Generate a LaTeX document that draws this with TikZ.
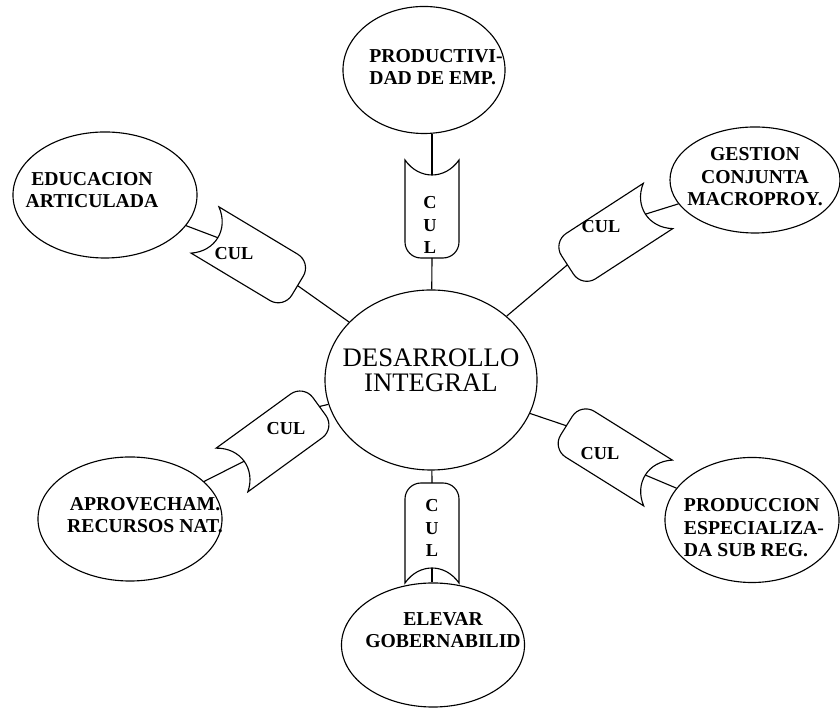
\documentclass[tikz,border=0pt]{standalone}
\usepackage{fontspec}
\setmainfont{Liberation Serif}
\usetikzlibrary{shapes.geometric}
% scroll: name, middle of the hollow end, angle, length
\def\culscroll#1(#2)(#3:#4){%
	\begin{scope}[shift={(#2)},rotate=#3]
		\draw[fill=white] (0,27) .. controls (20,13) and (20,-13) .. (0,-27)
			-- ({#4-16},-27) arc (-90:0:16) -- (#4,11) arc (0:90:16) -- cycle;
		\coordinate (#1-in) at (15,0);
		\coordinate (#1-out) at (#4,0);
	\end{scope}}

\begin{document}
\begin{tikzpicture}[x=0.025cm,y=0.025cm,line width=0.8pt,
	cell/.style={draw,ellipse,inner sep=0pt},
	txt/.style={font=\fontsize{14}{16}\selectfont\bfseries,inner sep=0pt},
	cul/.style={font=\fontsize{13}{16}\selectfont\bfseries,align=center,inner sep=0pt}]
			%%%%% START %%%%%
			\useasboundingbox (0,0) rectangle (840,708);
			
			\node[cell,minimum width=5.3cm,minimum height=4.5cm,
				label={[inner sep=0pt,align=center,font=\fontsize{19}{18}\selectfont,yshift=0.25cm]center:{DESARROLLO\\INTEGRAL}}] (center) at (431,328) {};
			
			\node[cell,minimum width=4.05cm,minimum height=3.175cm,
				label={[txt,align=left,xshift=0.3cm,yshift=0.075cm]center:{PRODUCTIVI-\\DAD DE EMP.}}] (prod) at (424,638) {};
			\node[cell,minimum width=4.6cm,minimum height=3.15cm,
				label={[txt,align=center,xshift=-0.325cm,yshift=0.125cm]center:{EDUCACION\\ARTICULADA}}] (educ) at (105,513) {};
			\node[cell,minimum width=4.25cm,minimum height=2.65cm,
				label={[txt,align=center,yshift=0.075cm]center:{GESTION\\CONJUNTA\\MACROPROY.}}] (gest) at (755,528) {};
			\node[cell,minimum width=4.6cm,minimum height=3.1cm,
				label={[txt,align=center,xshift=0.375cm,yshift=0.1cm]center:{APROVECHAM.\\RECURSOS NAT.}}] (aprov) at (130,189) {};
			\node[cell,minimum width=4.35cm,minimum height=3.125cm,
				label={[txt,align=left,xshift=0.05cm,yshift=-0.2cm]center:{PRODUCCION\\ESPECIALIZA-\\DA SUB REG.}}] (produc) at (752,188) {};
			\node[cell,minimum width=4.575cm,minimum height=3.1cm,
				label={[txt,align=center,xshift=0.25cm,yshift=0.375cm]center:{ELEVAR\\GOBERNABILID}}] (elevar) at (433,63) {};
			
			\culscroll{tp}(432,548)(-90:98)
			\culscroll{bt}(432,125)(90:100)
			\culscroll{tl}(205,478)(-31:108)
			\culscroll{tr}(658,502)(213:108)
			\culscroll{bl}(232,238)(36:108)
			\culscroll{br}(658,225)(148:108)
			
			\draw (tp-in) -- (tp-in |- prod.south);
			\draw (tp-out) -- (center);
			\draw (bt-in) -- (bt-in |- elevar.north);
			\draw (bt-out) -- (center);
			\draw (tl-in) -- (educ);
			\draw (tl-out) -- (center);
			\draw (tr-in) -- (gest);
			\draw (tr-out) -- (center);
			\draw (bl-in) -- (aprov);
			\draw (bl-out) -- (center);
			\draw (br-in) -- (produc);
			\draw (br-out) -- (center);
			
			\node[cul] (cultp) at (430,483) {C\\U\\L};
			\node[cul] (culbt) at (432,180) {C\\U\\L};
			\node[cul] (cultl) at (234,454) {CUL};
			\node[cul] (cultr) at (601,481) {CUL};
			\node[cul] (culbl) at (286,279) {CUL};
			\node[cul] (culbr) at (600,254) {CUL};
			%%%%% END %%%%%
\end{tikzpicture}
\end{document}
